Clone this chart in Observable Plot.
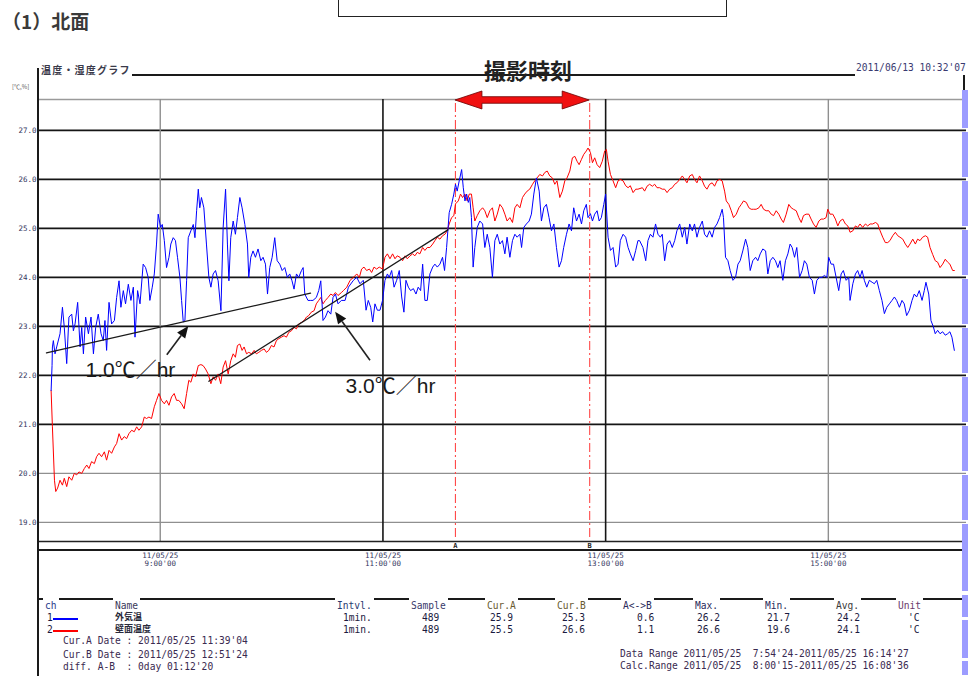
<!DOCTYPE html>
<html><head><meta charset="utf-8">
<script src="https://cdn.jsdelivr.net/npm/d3@7"></script>
<script src="https://cdn.jsdelivr.net/npm/@observablehq/plot@0.6"></script>
<style>
body{margin:0;background:#fff;width:968px;height:676px;overflow:hidden;position:relative;font-family:"Noto Sans CJK JP",sans-serif;}
.a{position:absolute;white-space:pre;}
.m{font-family:"DejaVu Sans Mono","Liberation Mono",monospace;font-size:9.6px;line-height:11px;color:#2a2a58;}
.hl{position:absolute;background:#1a1a1a;}
</style></head><body>
<script>
// ---------- data ----------
const pageTitle = "（1）北面";
const graphTitle = "温度・湿度グラフ";
const printDate = "2011/06/13 10:32'07";
const unitLabel = "[℃,%]";
const photoLabel = "撮影時刻";
const dataRangeStart = "7:54'24", dataRangeEnd = "16:14'27";
const curATime = "11:39'04", curBTime = "12:51'24";
const yDomain = [18.61, 27.63];
const yTicks = [19, 20, 21, 22, 23, 24, 25, 26, 27];
const xTicks = ["9:00'00", "11:00'00", "13:00'00", "15:00'00"];
const xTickDate = "11/05/25";

// minutes after 9:00 , value (℃)
const outside = [[-58.8,21.69],[-58.3,22.2],[-58.1,22.58],[-57.6,22.71],[-56.7,22.44],[-55.8,22.58],[-54.0,22.85],[-52.7,23.39],[-51.7,22.98],[-50.4,22.24],[-49.2,23.19],[-47.7,23.25],[-46.8,22.91],[-45.9,23.05],[-44.5,23.49],[-43.2,22.58],[-42.3,22.98],[-41.4,22.44],[-40.2,23.19],[-38.7,22.85],[-37.3,23.19],[-36.0,22.44],[-34.8,22.98],[-33.4,23.25],[-31.9,22.85],[-30.7,22.71],[-29.8,23.12],[-28.9,22.51],[-27.6,23.49],[-26.2,23.05],[-24.7,23.12],[-23.5,23.59],[-22.2,23.93],[-21.2,23.39],[-19.9,23.73],[-18.7,23.46],[-17.2,23.86],[-15.8,23.53],[-14.5,23.80],[-13.6,22.78],[-12.2,23.73],[-10.9,23.46],[-9.2,24.27],[-7.9,24.20],[-6.5,24.0],[-5.6,23.53],[-4.3,23.80],[-3.2,24.07],[-2.0,24.68],[-1.1,25.29],[0.2,25.02],[1.1,25.08],[2.2,24.75],[3.4,24.20],[4.7,24.41],[5.7,24.68],[7.0,24.81],[8.2,24.75],[9.3,24.41],[10.6,24.0],[11.5,23.53],[12.4,23.09],[13.3,23.12],[14.2,23.93],[15.1,24.81],[16.5,24.95],[17.8,25.08],[18.7,24.81],[19.6,25.36],[20.5,25.80],[21.3,25.42],[22.2,25.63],[23.5,25.42],[24.9,24.68],[26.2,24.0],[27.3,23.80],[28.5,24.07],[29.8,24.14],[31.2,23.93],[32.7,23.32],[33.9,25.02],[35.2,25.80],[36.2,24.68],[37.0,23.93],[38.0,24.81],[39.3,25.15],[40.5,24.88],[41.6,25.22],[42.9,25.63],[44.1,25.42],[45.6,25.08],[47.0,24.68],[47.7,24.0],[48.8,24.41],[50.0,24.54],[51.3,24.41],[52.7,24.58],[54.2,24.34],[55.4,24.41],[56.7,24.27],[57.8,23.66],[59.0,24.20],[60.3,24.41],[61.7,24.81],[63.0,24.34],[64.4,24.27],[65.7,24.14],[67.1,24.20],[68.5,24.0],[69.8,24.07],[71.0,23.93],[72.1,23.76],[73.4,24.07],[74.6,24.0],[76.1,24.14],[77.0,24.20],[77.9,23.66],[79.6,23.53],[81.1,23.53],[82.3,23.53],[84.1,23.59],[85.4,23.73],[86.5,23.93],[87.7,23.12],[89.0,23.19],[90.4,23.32],[91.9,23.25],[93.1,23.59],[94.4,23.66],[95.8,23.46],[97.6,23.53],[99.6,23.53],[101.4,23.80],[104.1,23.94],[105.9,24.0],[107.6,23.87],[109.4,23.94],[110.9,23.33],[112.1,23.53],[113.4,23.39],[114.5,23.09],[115.7,23.46],[117.0,23.33],[118.4,23.33],[119.8,23.53],[121.1,23.94],[122.4,24.07],[123.4,24.0],[124.7,24.14],[126.0,23.80],[127.4,23.94],[128.8,24.14],[130.1,23.60],[131.3,23.29],[132.4,23.94],[133.7,23.80],[134.9,23.73],[136.4,23.77],[137.8,23.66],[139.0,23.80],[140.3,23.73],[141.4,24.27],[142.6,23.53],[143.9,23.53],[145.3,24.07],[146.8,24.21],[148.0,24.27],[149.3,24.21],[150.7,24.27],[152.1,24.41],[153.2,24.14],[154.3,24.61],[155.7,25.32],[157.0,25.49],[158.2,25.70],[159.1,25.9],[160.0,25.76],[161.1,25.97],[162.4,26.20],[163.3,25.83],[164.2,25.56],[165.1,25.70],[166.0,25.53],[166.8,25.63],[167.7,25.22],[168.6,24.21],[169.5,24.61],[170.8,25.02],[172.2,25.15],[173.7,25.09],[174.9,24.61],[176.2,24.88],[177.6,24.61],[179.0,24.0],[180.3,24.75],[181.6,24.88],[183.0,24.68],[184.4,24.75],[185.7,24.48],[186.9,24.82],[188.4,24.41],[189.8,24.75],[191.1,24.88],[192.3,24.82],[193.8,24.88],[194.7,24.61],[195.9,25.02],[197.3,25.09],[198.8,25.15],[200.0,25.29],[201.3,25.70],[202.7,26.03],[204.2,25.76],[205.4,25.15],[206.7,25.42],[208.1,25.49],[209.5,25.22],[210.8,24.95],[212.1,25.09],[213.5,24.61],[214.9,24.21],[216.2,24.34],[217.4,24.61],[218.9,24.88],[220.3,25.09],[221.6,24.95],[222.8,25.42],[224.3,25.15],[225.7,25.29],[227.0,25.09],[228.2,25.36],[229.6,25.49],[230.5,25.22],[231.8,25.3],[232.9,25.15],[234.1,25.29],[235.4,25.36],[236.5,25.15],[237.7,25.22],[239.0,25.49],[240.0,25.70],[241.3,24.82],[242.6,24.55],[244.0,24.61],[245.4,24.21],[246.7,24.27],[247.9,24.75],[249.4,24.88],[250.8,24.82],[252.1,24.61],[253.3,24.48],[254.8,24.34],[256.2,24.55],[257.4,24.75],[258.3,24.75],[260.1,24.61],[261.6,24.34],[262.8,24.75],[264.1,24.88],[265.5,24.82],[266.9,25.09],[268.2,24.88],[269.5,24.82],[270.5,24.88],[271.8,24.34],[273.1,24.68],[274.5,24.75],[275.9,24.61],[277.2,24.75],[278.4,24.95],[279.9,25.09],[281.3,24.82],[282.6,25.02],[283.8,24.68],[285.3,25.09],[286.7,24.95],[287.9,25.09],[289.2,24.82],[290.6,25.02],[292.1,25.15],[293.3,24.88],[294.6,24.82],[296.0,24.95],[297.4,24.82],[298.7,25.02],[300.0,25.09],[301.4,25.22],[302.8,25.39],[303.5,25.22],[304.6,24.41],[305.9,24.34],[307.1,24.14],[308.6,23.94],[310.0,24.0],[311.3,24.27],[312.5,24.34],[313.9,24.54],[315.4,24.78],[316.6,24.61],[317.9,24.14],[319.3,24.34],[320.8,24.41],[322.0,24.34],[323.3,24.48],[324.7,24.58],[326.2,24.54],[327.4,24.07],[328.7,24.34],[330.1,24.41],[331.5,24.34],[332.8,24.20],[334.0,24.34],[335.5,23.94],[336.9,24.34],[338.2,24.48],[339.4,24.68],[340.5,24.61],[341.8,24.41],[343.0,24.61],[344.5,24.0],[345.9,24.14],[347.1,24.34],[348.4,24.27],[349.8,24.0],[351.3,23.94],[352.5,23.66],[353.8,23.94],[355.2,24.0],[356.6,24.0],[357.9,24.04],[359.2,24.0],[360.2,24.41],[361.5,24.27],[362.8,24.27],[364.2,24.0],[365.6,23.73],[366.9,24.07],[368.1,24.14],[369.6,23.94],[371.0,24.0],[371.7,23.53],[373.2,23.87],[374.6,24.07],[375.8,24.14],[377.1,24.0],[378.2,24.14],[379.4,23.94],[380.7,23.80],[382.1,23.94],[383.6,23.90],[384.8,23.87],[386.1,23.94],[387.5,23.73],[388.9,23.53],[390.2,23.26],[391.5,23.39],[392.9,23.46],[394.3,23.53],[395.6,23.60],[396.8,23.53],[398.3,23.39],[399.7,23.53],[400.9,23.46],[402.2,23.22],[403.7,23.33],[405.1,23.53],[406.3,23.66],[407.6,23.60],[409.0,23.73],[410.5,23.53],[411.7,23.73],[412.6,23.90],[414.1,23.66],[415.3,23.12],[416.6,22.99],[417.6,22.85],[418.9,22.92],[420.2,22.85],[421.6,22.89],[423.0,22.82],[424.3,22.85],[425.5,22.89],[426.6,22.78],[427.9,22.51]];

const wall = [[-58.8,21.69],[-58.1,20.95],[-57.0,19.86],[-56.3,19.63],[-55.3,19.70],[-54.0,19.86],[-52.7,19.76],[-51.7,19.90],[-50.4,19.73],[-49.2,19.93],[-47.7,19.86],[-46.3,20.0],[-45.0,19.97],[-43.8,20.03],[-42.3,20.0],[-40.9,20.10],[-39.6,20.17],[-38.4,20.10],[-37.0,20.24],[-35.5,20.20],[-34.3,20.34],[-33.0,20.41],[-31.6,20.34],[-30.1,20.44],[-28.9,20.27],[-27.6,20.47],[-26.2,20.41],[-24.7,20.54],[-23.5,20.61],[-22.2,20.81],[-20.8,20.68],[-19.4,20.75],[-18.1,20.71],[-16.9,20.81],[-15.4,20.88],[-14.0,20.85],[-12.7,20.95],[-11.5,20.88],[-10.0,20.95],[-8.6,21.15],[-7.4,21.12],[-6.1,21.15],[-4.7,21.12],[-3.2,21.36],[-2.0,21.49],[-0.7,21.63],[0.7,21.49],[2.2,21.42],[3.4,21.49],[4.7,21.39],[6.1,21.56],[7.5,21.63],[8.8,21.49],[10.0,21.49],[11.5,21.42],[12.9,21.32],[14.2,21.63],[15.4,21.90],[16.5,21.86],[17.8,22.03],[19.0,21.97],[20.5,22.20],[21.9,22.22],[23.1,22.20],[24.4,22.13],[25.8,22.03],[27.3,21.83],[28.5,21.97],[29.8,21.90],[31.2,22.03],[32.6,21.83],[33.9,22.17],[35.2,22.30],[36.6,22.03],[38.0,22.30],[39.3,22.44],[40.5,22.37],[41.6,22.61],[42.9,22.64],[44.1,22.51],[45.2,22.58],[46.5,22.44],[47.7,22.47],[49.2,22.44],[50.6,22.51],[51.8,22.44],[53.1,22.47],[54.5,22.51],[56.0,22.54],[57.2,22.47],[58.5,22.51],[59.9,22.61],[61.3,22.58],[62.6,22.71],[63.9,22.75],[65.3,22.78],[66.7,22.81],[68.0,22.78],[69.3,22.88],[70.7,22.91],[72.1,22.98],[73.4,22.95],[74.6,23.05],[76.1,23.08],[77.5,23.12],[78.8,23.19],[80.0,23.22],[81.4,23.29],[82.9,23.32],[84.1,23.46],[85.4,23.53],[86.5,23.59],[87.7,23.46],[89.0,23.53],[90.4,23.59],[91.9,23.66],[93.1,23.63],[94.4,23.69],[95.8,23.63],[97.6,23.69],[98.7,23.73],[100.5,23.80],[102.3,23.94],[104.1,24.0],[105.9,24.07],[107.3,24.0],[108.5,24.17],[109.8,24.21],[111.2,24.14],[112.7,24.17],[113.9,24.10],[115.2,24.21],[116.6,24.17],[118.0,24.21],[119.8,24.17],[121.1,24.41],[122.4,24.48],[123.8,24.38],[125.2,24.48],[126.5,24.38],[127.7,24.44],[129.2,24.41],[130.6,24.34],[131.9,24.44],[133.1,24.38],[134.6,24.44],[136.0,24.48],[137.2,24.44],[138.5,24.51],[139.9,24.48],[141.4,24.61],[142.6,24.55],[143.9,24.61],[145.3,24.61],[146.8,24.68],[148.0,24.75],[149.3,24.82],[150.7,24.78],[152.1,24.85],[153.4,24.88],[154.6,24.95],[155.7,25.09],[157.0,25.22],[158.2,25.26],[159.1,25.5],[160.6,25.56],[161.8,25.70],[162.9,25.63],[164.2,25.70],[165.4,25.56],[166.5,25.70],[167.7,25.70],[168.6,25.42],[169.5,25.15],[170.8,25.26],[172.2,25.36],[173.7,25.42],[174.9,25.36],[176.2,25.22],[177.6,25.36],[179.0,25.42],[180.3,25.15],[181.6,25.29],[183.0,25.49],[184.4,25.42],[185.7,25.29],[186.9,25.15],[188.4,25.22],[189.8,25.12],[191.1,25.42],[192.3,25.49],[193.8,25.42],[195.2,25.63],[196.4,25.70],[197.7,25.76],[199.1,25.80],[200.6,25.90],[201.8,25.97],[203.1,26.03],[204.5,26.10],[206.0,26.07],[207.2,26.14],[208.5,26.17],[209.9,26.07],[211.3,26.03],[212.6,25.90],[213.8,25.97],[215.3,25.63],[216.7,25.76],[218.0,25.97],[219.2,26.03],[220.7,26.17],[222.1,26.44],[223.4,26.47],[224.6,26.37],[225.7,26.30],[227.0,26.41],[228.2,26.51],[229.6,26.58],[230.5,26.64],[231.8,26.55],[232.9,26.34],[234.1,26.44],[235.4,26.30],[236.8,26.24],[238.2,26.37],[239.5,26.58],[240.4,26.61],[241.3,26.37],[242.6,26.10],[244.0,25.97],[245.4,25.83],[246.7,25.97],[247.9,26.0],[249.4,25.97],[250.8,25.87],[252.1,25.83],[253.3,25.87],[254.8,25.73],[256.2,25.80],[257.4,25.80],[259.8,25.83],[261.0,25.76],[262.3,25.86],[263.7,25.90],[265.2,25.86],[266.4,25.90],[267.7,25.83],[269.1,25.83],[270.5,25.80],[271.8,25.80],[273.1,25.73],[274.5,25.80],[275.9,25.83],[277.2,25.90],[278.4,25.93],[279.9,26.0],[281.3,26.07],[282.6,26.0],[283.8,25.93],[285.3,26.07],[286.7,26.10],[287.9,26.0],[289.2,25.93],[290.6,26.07],[292.1,25.97],[293.3,25.86],[294.6,25.80],[296.0,25.90],[297.4,25.93],[298.7,25.86],[300.0,25.97],[301.4,26.0],[302.8,25.97],[304.1,25.76],[305.0,25.56],[306.4,25.49],[307.7,25.36],[308.9,25.22],[310.4,25.29],[311.8,25.42],[313.1,25.49],[314.3,25.56],[315.8,25.53],[317.2,25.42],[318.4,25.39],[319.7,25.39],[321.1,25.39],[322.6,25.42],[323.8,25.49],[325.1,25.39],[326.5,25.36],[327.9,25.36],[329.2,25.29],[330.5,25.26],[331.9,25.36],[333.3,25.29],[334.6,25.19],[335.8,25.12],[337.3,25.29],[338.7,25.49],[340.0,25.42],[341.2,25.39],[342.7,25.36],[344.1,25.22],[345.4,25.12],[346.6,25.26],[348.0,25.29],[349.5,25.29],[350.7,25.19],[352.0,25.09],[353.4,25.02],[354.9,25.15],[356.1,25.19],[357.4,25.19],[358.8,25.22],[359.7,25.39],[360.9,25.29],[362.4,25.29],[363.8,25.19],[365.1,25.05],[366.3,25.15],[367.8,25.19],[369.2,25.09],[370.5,25.05],[371.7,24.92],[373.2,24.95],[374.6,25.05],[375.8,25.02],[377.1,25.09],[378.5,25.02],[380.0,25.09],[381.2,25.05],[382.5,25.09],[383.9,25.09],[385.4,25.12],[386.6,25.09],[387.9,24.95],[389.3,24.82],[390.7,24.71],[392.0,24.71],[393.2,24.75],[394.7,24.85],[396.1,24.92],[397.4,24.85],[398.6,24.82],[400.1,24.78],[401.5,24.68],[402.8,24.61],[404.0,24.68],[405.5,24.78],[406.9,24.68],[408.1,24.78],[409.4,24.75],[410.8,24.82],[412.3,24.85],[413.5,24.82],[414.8,24.61],[416.2,24.47],[417.6,24.34],[418.9,24.31],[420.2,24.20],[421.6,24.27],[423.0,24.37],[424.3,24.31],[425.5,24.27],[427.0,24.14],[427.9,24.14]];

// annotation trend lines and arrows (minutes after 9:00, ℃)
const trendSlow = [[-61.3,22.46],[81.0,23.68]];
const trendFast = [[26.2,21.88],[155.0,24.97]];
const arrows = [{t1:3.8,v1:22.41,t2:15.4,v2:23.0},{t1:113.3,v1:22.30,t2:94.5,v2:23.29}];
const notes = [{t:-40.3,v:22.10,label:"1.0℃／hr"},{t:99.85,v:21.77,label:"3.0℃／hr"}];
const photoLabelPos = {t:198.2, v:28.20};
const cursorArrowV = 27.61;
const cursorMarkV = 18.53;

// table
const tableHeaders = ["ch","Name","Intvl.","Sample","Cur.A","Cur.B","A<->B","Max.","Min.","Avg.","Unit"];
const chNames = ["外気温","壁面温度"];
const chIntvl = ["1min.","1min."];
const chSample = ["489","489"];
const chCurA = ["25.9","25.5"];
const chCurB = ["25.3","26.6"];
const chDiff = ["0.6","1.1"];
const chMax = ["26.2","26.6"];
const chMin = ["21.7","19.6"];
const chAvg = ["24.2","24.1"];
const chUnit = ["'C","'C"];
const infoLeft = ["Cur.A Date : 2011/05/25 11:39'04","Cur.B Date : 2011/05/25 12:51'24","diff. A-B  : 0day 01:12'20"];
const infoRight = ["Data Range 2011/05/25  7:54'24-2011/05/25 16:14'27","Calc.Range 2011/05/25  8:00'15-2011/05/25 16:08'36"];

// ---------- helpers ----------
function toMin(s){const [h,r]=s.split(":");const [m,sec]=r.split("'");return +h*60 + +m + +sec/60 - 540;}
const xDomain=[toMin(dataRangeStart), toMin(dataRangeEnd)];
const curA=toMin(curATime), curB=toMin(curBTime);
const xTickVals=xTicks.map(toMin);
const xLabelMap=new Map(xTickVals.map((v,i)=>[v, xTickDate+"\n"+xTicks[i]]));
const toObj=a=>a.map(([t,v])=>({t,v}));
const TXT="#34365e";

function addDiv(cls, style, text){const d=document.createElement("div");d.className=cls;Object.assign(d.style,style);if(text!=null)d.textContent=text;document.body.appendChild(d);return d;}

// elements under the chart
addDiv("hl",{left:"132px",top:"74px",width:"723px",height:"1.5px"});

const chartHolder=addDiv("a",{left:"0px",top:"50px"});

const doubleArrow=(index,scales)=>{
  const xa=scales.x(curA), xb=scales.x(curB), y=scales.y(cursorArrowV);
  const hl=27, hw=9, sw=3.3;
  const p=[[xa,y],[xa+hl,y-hw],[xa+hl,y-sw],[xb-hl,y-sw],[xb-hl,y-hw],[xb,y],[xb-hl,y+hw],[xb-hl,y+sw],[xa+hl,y+sw],[xa+hl,y+hw]];
  const g=d3.create("svg:g");
  g.append("path").attr("d","M"+p.map(q=>q.join(",")).join("L")+"Z").attr("fill","#f01010").attr("stroke","#6a0000").attr("stroke-width",0.8);
  return g.node();
};
const blackArrows=(index,scales)=>{
  const g=d3.create("svg:g");
  for(const a of arrows){
    const x1=scales.x(a.t1),y1=scales.y(a.v1),x2=scales.x(a.t2),y2=scales.y(a.v2);
    const ang=Math.atan2(y2-y1,x2-x1), hl=12, hw=5;
    const bx=x2-hl*Math.cos(ang), by=y2-hl*Math.sin(ang);
    g.append("line").attr("x1",x1).attr("y1",y1).attr("x2",bx).attr("y2",by).attr("stroke","#222").attr("stroke-width",1.6);
    g.append("path").attr("d",`M${x2},${y2}L${bx+hw*Math.sin(ang)},${by-hw*Math.cos(ang)}L${bx-hw*Math.sin(ang)},${by+hw*Math.cos(ang)}Z`).attr("fill","#111");
  }
  return g.node();
};

const chart=Plot.plot({
  width:968, height:520,
  marginLeft:38, marginRight:2, marginTop:49, marginBottom:29,
  x:{domain:xDomain, axis:null},
  y:{domain:yDomain, axis:null},
  style:{background:"transparent", overflow:"visible", fontFamily:"DejaVu Sans Mono, monospace"},
  marks:[
    Plot.ruleY([yDomain[1]],{stroke:"#9a9a9a",strokeWidth:1.3}),
    Plot.ruleY(yTicks.filter(d=>d<=20),{stroke:"#8f8f8f",strokeWidth:1.4}),
    Plot.ruleY(yTicks.filter(d=>d>20),{stroke:"#151515",strokeWidth:1.6}),
    Plot.ruleX(xTickVals.filter((d,i)=>i%3===0),{y1:yDomain[0],y2:yDomain[1],stroke:"#8f8f8f",strokeWidth:1.4}),
    Plot.ruleX(xTickVals.filter((d,i)=>i%3!==0),{y1:yDomain[0],y2:yDomain[1],stroke:"#151515",strokeWidth:1.6}),
    Plot.ruleY([yDomain[0]],{stroke:"#222",strokeWidth:1.3}),
    Plot.ruleX([curA,curB],{y1:18.69,y2:cursorArrowV,stroke:"#ff4a4a",strokeWidth:1.1,strokeDasharray:"9,3,2,3"}),
    Plot.line(toObj(wall),{x:"t",y:"v",stroke:"#ff0000",strokeWidth:1}),
    Plot.line(toObj(outside),{x:"t",y:"v",stroke:"#0000ff",strokeWidth:1}),
    Plot.line(toObj(trendSlow),{x:"t",y:"v",stroke:"#1a1a1a",strokeWidth:1.3}),
    Plot.line(toObj(trendFast),{x:"t",y:"v",stroke:"#1a1a1a",strokeWidth:1.3}),
    blackArrows,
    Plot.text(notes,{x:"t",y:"v",text:"label",textAnchor:"start",lineAnchor:"middle",fontSize:21,fill:"#1a1a1a",fontFamily:"Liberation Sans, Noto Sans CJK JP, sans-serif"}),
    doubleArrow,
    Plot.text([photoLabelPos],{x:"t",y:"v",text:()=>photoLabel,fontSize:22,fontWeight:"bold",fill:"#222",fontFamily:"Noto Sans CJK JP, sans-serif",lineAnchor:"middle"}),
    Plot.text([curA,curB],{x:d=>d,y:cursorMarkV,text:(d,i)=>i===0?"A":"B",fontSize:7,fill:"#222",fontWeight:"bold",lineAnchor:"middle"}),
    Plot.axisY({ticks:yTicks,tickFormat:d=>d.toFixed(1),tickSize:0,tickPadding:2,label:null,fontSize:7.5,fill:TXT}),
    Plot.axisX({ticks:xTickVals,tickFormat:d=>xLabelMap.get(d),tickSize:0,tickPadding:10,label:null,fontSize:7.5,lineHeight:1.15,fill:TXT})
  ]
});
chartHolder.appendChild(chart);

// header texts and frame pieces
addDiv("a",{left:"2px",top:"10px",fontSize:"19px",lineHeight:"22px",fontWeight:"700",color:"#3a3a3a"},pageTitle);
addDiv("a",{left:"338px",top:"-3px",width:"387px",height:"18px",border:"1.5px solid #222"});
addDiv("a",{left:"41px",top:"64px",fontSize:"10px",lineHeight:"11px",fontWeight:"700",letterSpacing:"1.2px",color:"#3a3a4a"},graphTitle);
addDiv("a m",{left:"856px",top:"62px",color:"#3a3a70"},printDate);
addDiv("hl",{left:"963px",top:"75px",width:"1.5px",height:"16px"});
addDiv("a",{left:"12px",top:"84px",fontSize:"6px",lineHeight:"6px",color:"#555"},unitLabel);
addDiv("hl",{left:"37px",top:"68px",width:"1.6px",height:"620px"});
addDiv("hl",{left:"38px",top:"549px",width:"928px",height:"2px"});

// right strip with gaps at the grid lines
{
  const ys=chart.scale("y");
  const gaps=yTicks.map(v=>ys.apply(v)+50).sort((a,b)=>a-b);
  let top=90;
  for(const g of gaps.concat([593,618,659,676])){
    addDiv("a",{left:"962px",top:top+"px",width:"6px",height:Math.max(0,g-1.5-top)+"px",background:"#9c9cff"});
    top=g+2;
  }
}

// table
addDiv("hl",{left:"38px",top:"598px",width:"924px",height:"1.5px"});
const headX=[45,115,337,411,487,557,623,695,765,836,898];
const headColor=["#2a3a8a","#3a3a5a","#2a3a70","#3a3a6a","#6a5a30","#6a5a30","#2a2a5a","#2a2a5a","#2a2a5a","#3a3a3a","#6a3a6a"];
tableHeaders.forEach((h,i)=>addDiv("a m",{left:(headX[i]-2)+"px",top:"596px",padding:"4px 2px 0 2px",background:"#fff",color:headColor[i]},h));
const rowY=[612,624];
const cols=[[chIntvl,343],[chSample,422],[chCurA,490],[chCurB,562],[chDiff,637],[chMax,697],[chMin,767],[chAvg,837],[chUnit,908]];
[0,1].forEach(r=>{
  addDiv("a m",{left:"47px",top:rowY[r]+"px",color:"#1a1a40"},String(r+1));
  addDiv("a",{left:"53px",top:(rowY[r]+6)+"px",width:"25px",height:"1.6px",background:r===0?"#0000ff":"#ff0000"});
  addDiv("a",{left:"115px",top:(rowY[r]-1)+"px",fontSize:"9px",lineHeight:"12px",fontWeight:"700",color:"#2a2a3a"},chNames[r]);
  cols.forEach(([arr,x])=>addDiv("a m",{left:x+"px",top:rowY[r]+"px",color:"#1a1a40"},arr[r]));
});
infoLeft.forEach((s,i)=>addDiv("a m",{left:"63px",top:[635,649,661][i]+"px",color:"#3a2a50"},s));
infoRight.forEach((s,i)=>addDiv("a m",{left:"620px",top:[648,660][i]+"px",color:"#3a2a50"},s));
</script>
</body></html>
